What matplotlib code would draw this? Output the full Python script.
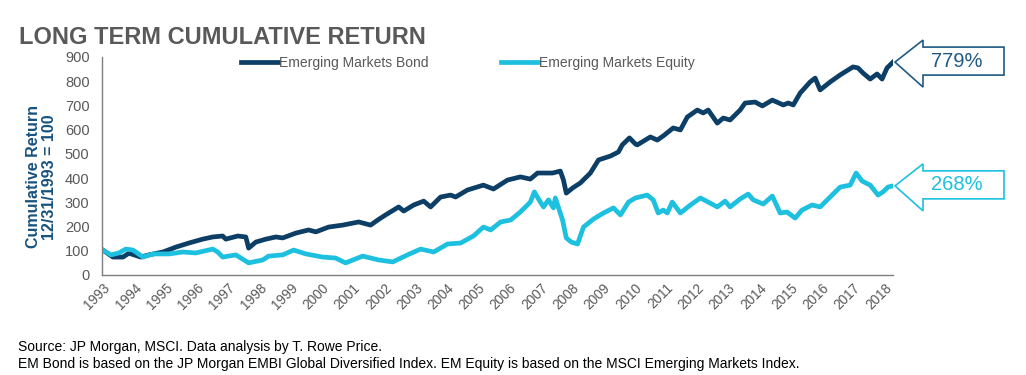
import matplotlib
matplotlib.use("Agg")
import matplotlib.pyplot as plt
from matplotlib.patches import Polygon

plt.rcParams['font.family'] = ['Liberation Sans', 'DejaVu Sans']

# series (x = position on the year axis, y = index level)
bond_x = [1993.03, 1993.32, 1993.64, 1993.83, 1994.21, 1994.47, 1994.92, 1995.33, 1995.75,
          1996.19, 1996.51, 1996.83, 1996.93, 1997.31, 1997.57, 1997.66, 1997.89, 1998.21,
          1998.53, 1998.75, 1999.17, 1999.58, 1999.81, 2000.22, 2000.67, 2001.18, 2001.56,
          2001.79, 2002.04, 2002.46, 2002.62, 2002.94, 2003.26, 2003.48, 2003.80, 2004.12,
          2004.28, 2004.66, 2005.17, 2005.49, 2005.94, 2006.35, 2006.67, 2006.90, 2007.38,
          2007.63, 2007.73, 2007.82, 2008.02, 2008.27, 2008.59, 2008.85, 2009.23, 2009.49,
          2009.61, 2009.84, 2010.03, 2010.09, 2010.51, 2010.73, 2010.92, 2011.24, 2011.47,
          2011.69, 2012.01, 2012.20, 2012.36, 2012.65, 2012.84, 2013.06, 2013.38, 2013.54,
          2013.86, 2014.09, 2014.41, 2014.76, 2014.92, 2015.08, 2015.30, 2015.62, 2015.78,
          2015.94, 2016.26, 2016.58, 2016.99, 2017.15, 2017.31, 2017.54, 2017.76, 2017.92,
          2018.08, 2018.27]
bond_y = [100, 74, 74, 90, 74, 83, 95, 115, 132,
          148, 157, 161, 148, 161, 157, 111, 136, 148,
          157, 153, 173, 186, 178, 198, 206, 219, 206,
          227, 248, 281, 264, 289, 305, 281, 322, 330,
          322, 351, 371, 355, 392, 405, 396, 421, 421,
          429, 392, 338, 359, 380, 421, 475, 491, 508,
          537, 566, 541, 537, 570, 557, 574, 607, 599,
          652, 681, 669, 681, 627, 648, 640, 681, 710,
          714, 698, 722, 702, 710, 702, 751, 797, 813,
          764, 797, 826, 859, 855, 834, 809, 830, 809,
          855, 879]

equity_x = [1993.03, 1993.26, 1993.51, 1993.73, 1993.96, 1994.28, 1994.60, 1995.11, 1995.56,
            1995.97, 1996.51, 1996.67, 1996.83, 1997.25, 1997.66, 1998.11, 1998.30, 1998.75,
            1999.10, 1999.49, 2000.03, 2000.44, 2000.76, 2001.31, 2001.82, 2002.27, 2002.74,
            2003.16, 2003.58, 2004.02, 2004.44, 2004.85, 2005.17, 2005.40, 2005.72, 2006.04,
            2006.35, 2006.67, 2006.80, 2006.93, 2007.09, 2007.25, 2007.41, 2007.47, 2007.70,
            2007.82, 2007.98, 2008.18, 2008.37, 2008.69, 2009.01, 2009.33, 2009.55, 2009.81,
            2010.03, 2010.41, 2010.60, 2010.76, 2010.92, 2011.05, 2011.21, 2011.47, 2011.79,
            2012.11, 2012.36, 2012.65, 2012.90, 2013.06, 2013.38, 2013.64, 2013.80, 2014.12,
            2014.41, 2014.66, 2014.88, 2015.14, 2015.36, 2015.68, 2015.94, 2016.26, 2016.58,
            2016.90, 2017.09, 2017.28, 2017.54, 2017.79, 2017.95, 2018.11, 2018.27]
equity_y = [100, 83, 91, 107, 103, 74, 87, 87, 95,
            91, 107, 95, 74, 83, 50, 62, 78, 83,
            103, 87, 74, 70, 50, 78, 62, 54, 83,
            107, 95, 128, 132, 161, 198, 186, 219, 227,
            260, 301, 343, 314, 281, 310, 277, 318, 227,
            153, 136, 128, 198, 231, 256, 277, 248, 301,
            318, 330, 310, 256, 268, 256, 301, 256, 289,
            318, 301, 281, 305, 281, 314, 334, 310, 293,
            326, 256, 260, 235, 268, 289, 281, 322, 363,
            371, 421, 388, 371, 330, 343, 363, 368]

years = list(range(1993, 2019))
yticks = [0, 100, 200, 300, 400, 500, 600, 700, 800, 900]
bond_label = "779%"
equity_label = "268%"

bond_color = "#0c3e66"
equity_color = "#1dc0de"
text_gray = "#595959"

W, H = 1026, 375
fig = plt.figure(figsize=(W / 100, H / 100), dpi=100)
ax = fig.add_axes([102 / W, 1 - 275 / H, (893 - 102) / W, (275 - 57) / H])

ax.plot(bond_x, bond_y, color=bond_color, lw=3.4, label="Emerging Markets Bond",
        solid_joinstyle="round")
ax.plot(equity_x, equity_y, color=equity_color, lw=3.4, label="Emerging Markets Equity",
        solid_joinstyle="round")

ax.set_xlim(1992.97, 2018.27)
ax.set_ylim(0, 900)
ax.set_yticks(yticks)
ax.set_xticks(years)
ax.set_xticklabels([str(y) for y in years], rotation=45, ha="right", va="top",
                   rotation_mode="anchor")
ax.tick_params(axis="both", length=0, colors=text_gray, labelsize=10.5)
ax.tick_params(axis="x", pad=4, labelsize=9.8)
ax.tick_params(axis="y", pad=9)
for s in ["top", "right"]:
    ax.spines[s].set_visible(False)
for s in ["left", "bottom"]:
    ax.spines[s].set_color("#7f7f7f")
    ax.spines[s].set_linewidth(1)

ax.set_ylabel("Cumulative Return\n12/31/1993 = 100", color="#17527e", fontsize=11.5,
              fontweight="bold", linespacing=1.05)
ax.yaxis.set_label_coords(-0.057, 0.45)

leg = ax.legend(loc="upper left", bbox_to_anchor=(0.163, 1.05), ncol=2, frameon=False,
                fontsize=10, handlelength=2.7, handletextpad=0.05, columnspacing=5.2,
                borderpad=0.2)
for t in leg.get_texts():
    t.set_color(text_gray)

fig.text(19 / W, 1 - 38 / H, "LONG TERM CUMULATIVE RETURN", fontsize=17,
         fontweight="bold", color=text_gray, va="center", ha="left")

fig.text(18 / W, 1 - 347 / H, "Source: JP Morgan, MSCI. Data analysis by T. Rowe Price.",
         fontsize=10, color="black", va="center")
fig.text(18 / W, 1 - 364 / H,
         "EM Bond is based on the JP Morgan EMBI Global Diversified Index. "
         "EM Equity is based on the MSCI Emerging Markets Index.",
         fontsize=10, color="black", va="center")


def callout(x_last, y_last, label, color):
    # block arrow pointing left at the end of a series
    fig.canvas.draw()
    tx, ty = ax.transData.transform((x_last, y_last))
    tx += 2
    pts = [(tx, ty), (tx + 28, ty + 22), (tx + 28, ty + 15), (tx + 109, ty + 15),
           (tx + 109, ty - 13), (tx + 28, ty - 13), (tx + 28, ty - 25)]
    pts = [(px / W, py / H) for px, py in pts]
    fig.patches.append(Polygon(pts, closed=True, fill=True, facecolor="white",
                               edgecolor=color, lw=1.2, transform=fig.transFigure))
    fig.text((tx + 62) / W, (ty + 1) / H, label, fontsize=14.5, color=color,
             ha="center", va="center")


callout(bond_x[-1], bond_y[-1], bond_label, "#1f5a85")
callout(equity_x[-1], equity_y[-1], equity_label, equity_color)

fig.savefig("out.png", dpi=100)
